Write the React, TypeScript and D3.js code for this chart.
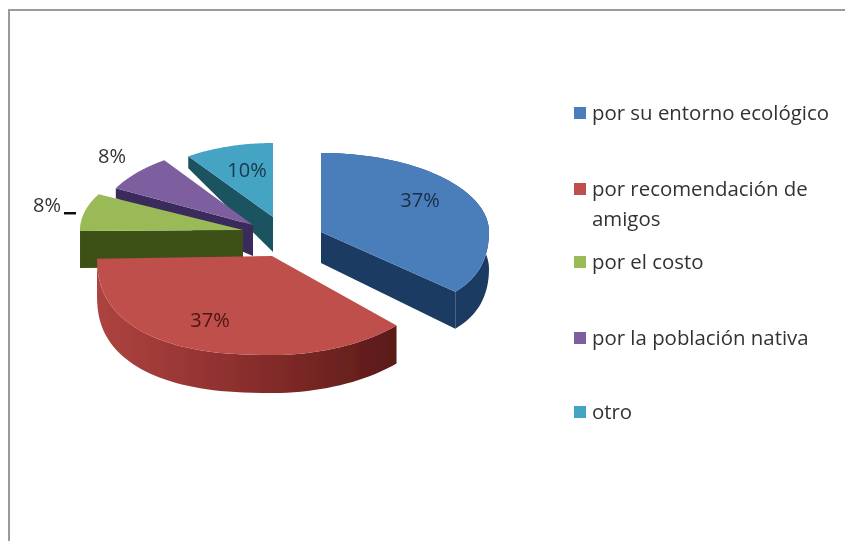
import React from "react";
import * as d3 from "d3";

const categories = ["por su entorno ecológico", "por recomendación de amigos", "por el costo", "por la población nativa", "otro"];
const values = [37.4, 37.4, 7.9, 7.6, 9.7];
const labels = ["37%", "37%", "8%", "8%", "10%"];
const topColors = ["#4a7ebb", "#bf4f4c", "#9aba59", "#7d5fa0", "#45a4c3"];
const sideColors = ["#1f3b62", "url(#redWall)", "#3e5119", "#3b2a5c", "#1b5260"];
const legendLines = [["por su entorno ecológico"], ["por recomendación de", "amigos"], ["por el costo"], ["por la población nativa"], ["otro"]];
const legendY = [113, 189, 262, 338, 412];
const labelPos = [[420, 200], [210, 320], [47, 205], [112, 156], [247, 170]];

// layout of each exploded wedge: apex, radii, perspective, squareness of the rim, extrusion at apex/outer rim
const slices = [
  { cx: 321, cy: 232, rx: 168, ryB: 79, ryF: 85, p: 0.25, q: 1, dIn: 31, dOut: 37 },
  { cx: 272, cy: 256, rx: 175, ryB: 99, ryF: 99, p: 0, q: 0.82, dIn: 38, dOut: 38 },
  { cx: 243, cy: 230, rx: 163, ryB: 77, ryF: 77, p: 0, q: 1, dIn: 37, dOut: 37 },
  { cx: 253, cy: 225, rx: 155, ryB: 79, ryF: 79, p: 0, q: 1, dIn: 31, dOut: 10 },
  { cx: 273, cy: 217, rx: 148, ryB: 74, ryF: 74, p: 0, q: 1, dIn: 35, dOut: 12 },
];
const drawOrder = [4, 3, 2, 0, 1];

const arcs = d3.pie<number>().sort(null)(values);
const line = d3.line();

type S = typeof slices[number];
const pt = (s: S, a: number, dy = 0): [number, number] => {
  const sn = Math.sin(a);
  const cs = Math.cos(a);
  const q = a > Math.PI ? s.q : 1;
  const v = Math.max(-cs, 0);
  const ry = cs > 0 ? s.ryB : s.ryF;
  const x = Math.sign(sn) * Math.pow(Math.abs(sn), q);
  const y = Math.sign(cs) * Math.pow(Math.abs(cs), q);
  return [s.cx + s.rx * x * (1 + s.p * v * v), s.cy - ry * y + dy];
};
const rim = (s: S, a0: number, a1: number, dy = 0) =>
  d3.range(0, 61).map((i) => pt(s, a0 + ((a1 - a0) * i) / 60, dy));

export default function App() {
  return (
    <svg width={845} height={541} style={{ position: "absolute", left: 0, top: 0, background: "#fff" }}>
      <defs>
        <linearGradient id="redWall" gradientUnits="userSpaceOnUse" x1={98} x2={398} y1={0} y2={0}>
          <stop offset="0" stopColor="#ad4340" />
          <stop offset="0.45" stopColor="#8e302e" />
          <stop offset="1" stopColor="#5a1a18" />
        </linearGradient>
        <filter id="soft" x="-5%" y="-5%" width="110%" height="110%">
          <feGaussianBlur stdDeviation="0.5" />
        </filter>
      </defs>
      <g filter="url(#soft)">
        <path d="M9,541V10H845" fill="none" stroke="#9a9a9a" strokeWidth={2} />
        {drawOrder.map((i) => {
          const s = slices[i];
          const { startAngle: a0, endAngle: a1 } = arcs[i];
          const apex: [number, number] = [s.cx, s.cy];
          const apexB: [number, number] = [s.cx, s.cy + s.dIn];
          // blue shows the cut at its end angle; the small wedges show the cut at their start angle
          const cutAngle = i === 0 ? a1 : a0;
          const cut = [apex, pt(s, cutAngle), pt(s, cutAngle, s.dOut), apexB];
          const wall = [...rim(s, a0, a1), ...rim(s, a0, a1, s.dOut).reverse()];
          const face = [apex, ...rim(s, a0, a1)];
          return (
            <g key={categories[i]}>
              {i !== 1 && <path d={line(cut)! + "Z"} fill={sideColors[i]} />}
              {i < 2 && <path d={line(wall)! + "Z"} fill={sideColors[i]} />}
              <path d={line(face)! + "Z"} fill={topColors[i]} />
            </g>
          );
        })}
        <rect x={64} y={212} width={12} height={2.5} fill="#111" />
        {labels.map((t, i) => (
          <text key={i} x={labelPos[i][0]} y={labelPos[i][1]} dy="0.35em" textAnchor="middle" fontFamily="'Open Sans', sans-serif" fontSize={20} fill={i === 1 ? "#4a1513" : i === 0 ? "#1c2b44" : i === 4 ? "#17384a" : "#333"}>
            {t}
          </text>
        ))}
        {categories.map((c, i) => (
          <g key={c}>
            <rect x={574} y={legendY[i] - 6} width={12} height={12} fill={topColors[i]} />
            {legendLines[i].map((l, k) => (
              <text key={l} x={592} y={legendY[i] + 7 + k * 30} fontFamily="'Open Sans', sans-serif" fontSize={20.4} fill="#333">
                {l}
              </text>
            ))}
          </g>
        ))}
      </g>
    </svg>
  );
}
